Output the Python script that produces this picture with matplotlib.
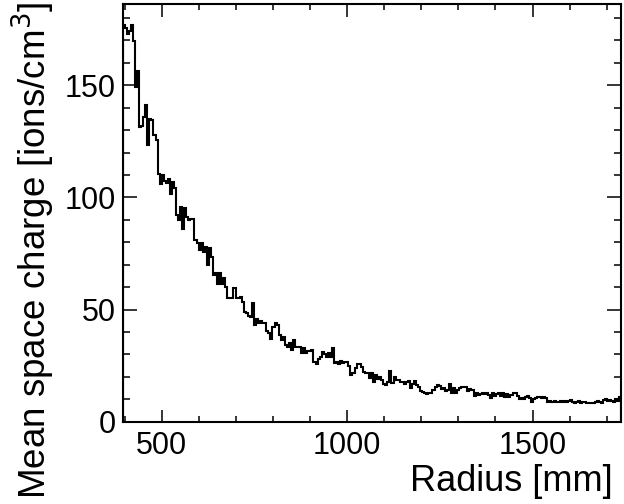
import numpy as np
import matplotlib
matplotlib.use("Agg")
import matplotlib.pyplot as plt
from matplotlib.ticker import MultipleLocator

plt.rcParams['font.family'] = ['Liberation Sans', 'DejaVu Sans']

# radius range of the histogram [mm]
r_min = 395
r_max = 1739

# mean space charge per radial bin [ions/cm^3]
charge = [
    176.8, 175.3, 172.7, 174.3, 176.8, 169.7, 149.3, 156.4, 131.4, 132.0,
    136.0, 141.1, 123.3, 135.0, 134.4, 127.9, 125.5, 110.5, 106.2, 109.9,
    107.5, 106.4,
    108.0, 101.7, 107.0, 104.4, 92.2, 89.9, 95.8, 86.0, 95.1, 91.3,
    90.1, 90.6, 90.6, 80.9, 79.5, 76.6, 79.5, 75.7, 77.9, 69.7,
    77.3, 73.5, 65.4, 66.1, 61.6, 66.1, 61.6, 63.9, 60.1, 55.0,
    55.4, 55.0, 59.5, 55.0, 55.4,
    55.7, 53.4, 49.0, 48.3, 47.2, 46.9, 52.8, 43.1, 45.6, 43.9,
    44.9, 43.9, 43.9, 40.4, 39.7, 36.8, 42.4, 44.1, 43.1, 38.7,
    36.5, 37.9, 34.2, 33.4, 35.0, 32.0, 36.5, 33.4, 33.4, 33.2,
    30.8, 32.7, 30.6, 31.7, 31.7, 32.0, 26.8, 25.8, 27.8, 29.0,
    31.0, 30.2, 28.7, 30.6, 29.0, 32.7, 26.1, 26.5, 25.8, 27.1,
    26.1, 26.8, 26.8, 24.8, 20.9, 21.9, 23.8, 25.6, 25.6, 24.5,
    22.3, 21.6, 21.6, 19.3, 21.6, 17.9, 20.9, 18.9, 20.0, 18.6,
    16.9, 16.4, 17.9, 22.8, 17.2, 19.8, 18.6, 18.6, 17.9, 17.9,
    16.9, 17.9, 18.3, 15.0,
    16.9, 18.3, 16.4, 15.7, 13.8, 13.4, 13.0, 12.4, 12.7, 12.9,
    14.1, 15.4, 16.4, 15.9, 14.4, 15.0, 13.8, 14.1, 16.9, 13.0,
    15.0, 13.0, 14.1, 15.0, 15.7, 15.7, 15.4, 13.8, 14.4, 14.1,
    11.5, 13.0, 12.0, 12.4, 13.0, 12.4, 12.7, 12.0, 10.5, 12.7,
    11.5, 12.2, 12.7, 11.5, 13.0, 11.2, 12.4, 11.2, 12.0, 12.7,
    13.0, 11.5,
    10.1, 10.5, 10.1, 10.9, 11.5, 10.5, 8.7, 10.1, 10.5, 10.9,
    11.2, 10.5, 10.9, 10.5, 8.7, 9.4, 9.0, 9.4, 9.0, 8.7,
    9.4, 9.0, 9.4, 9.0, 9.4, 9.7, 9.0, 8.2, 9.0, 9.4,
    8.2, 9.0, 9.0, 8.5, 8.5, 8.2, 8.5, 9.0, 9.4, 9.0,
    8.5, 9.7, 10.1, 9.4, 9.7, 9.2, 9.0, 10.1, 9.4, 11.2,
]

edges = np.linspace(r_min, r_max, len(charge) + 1)

fig = plt.figure(figsize=(6.24, 5.04), dpi=100)
ax = fig.add_axes([0.1966, 0.1631, 0.799, 0.828])

ax.stairs(charge, edges, color='black', linewidth=1.5, baseline=0)

ax.set_xlim(r_min, r_max)
ax.set_ylim(0, 186)

ax.xaxis.set_major_locator(MultipleLocator(500))
ax.xaxis.set_minor_locator(MultipleLocator(100))
ax.yaxis.set_major_locator(MultipleLocator(50))
ax.yaxis.set_minor_locator(MultipleLocator(10))

ax.tick_params(which='both', direction='in', top=True, right=True, width=1.1)
ax.tick_params(axis='x', which='major', length=9, labelsize=22, pad=6.5)
ax.tick_params(axis='x', which='minor', length=4.5)
ax.tick_params(axis='y', which='major', length=10, labelsize=22, pad=5)
ax.tick_params(axis='y', which='minor', length=5)

for s in ax.spines.values():
    s.set_linewidth(1.5)

fig.text(613 / 624, (504 - 491) / 504, 'Radius [mm]', ha='right',
         va='baseline', fontsize=26)
fig.text(33 / 624, 1 - 2 / 504, 'Mean space charge [ions/cm$^{3}$]',
         rotation=90, ha='center', va='top', fontsize=26.5)

fig.savefig('out.png', dpi=100)
